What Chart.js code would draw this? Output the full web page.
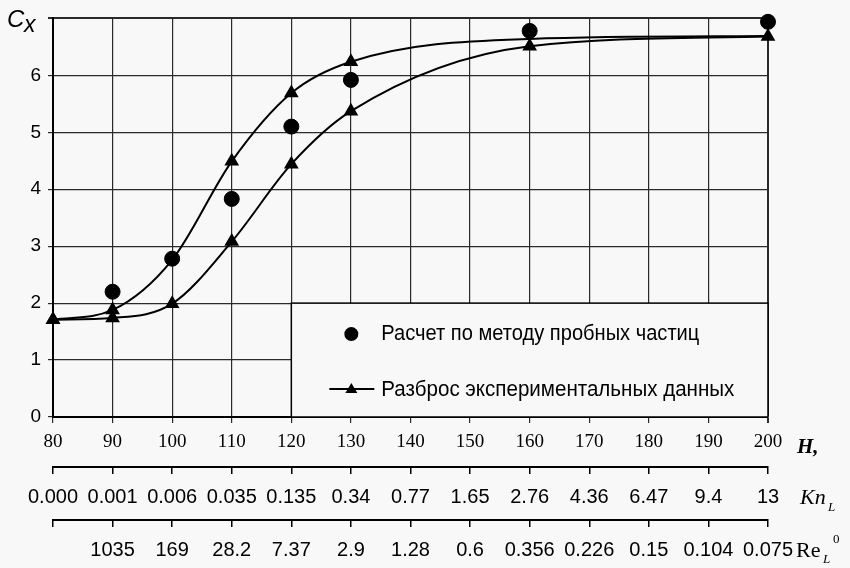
<!DOCTYPE html>
<html>
<head>
<meta charset="utf-8">
<script src="https://cdn.jsdelivr.net/npm/chart.js@4.4.0/dist/chart.umd.min.js"></script>
<style>
    html, body { margin: 0; padding: 0; background: #f8f8f8; }
</style>
</head>
<body>
<canvas id="grafica" width="850" height="568"></canvas>
<script>
// высоты H, км
const alturas = [80, 90, 100, 110, 120, 130, 160, 200];
// расчет по методу пробных частиц
const calcH = [90, 100, 110, 120, 130, 160, 200];
const calcCx = [2.2, 2.78, 3.83, 5.1, 5.92, 6.78, 6.94];
// разброс экспериментальных данных: верхняя и нижняя границы
const superiorCx = [1.71, 1.88, 2.76, 4.49, 5.69, 6.24, 6.64, 6.69];
const superiorMarca = [1, 1, 0, 1, 1, 1, 0, 0];
const inferiorCx = [1.71, 1.74, 1.99, 3.08, 4.44, 5.37, 6.51, 6.68];

const knL = ["0.000", "0.001", "0.006", "0.035", "0.135", "0.34", "0.77", "1.65", "2.76", "4.36", "6.47", "9.4", "13"];
const reL = ["", "1035", "169", "28.2", "7.37", "2.9", "1.28", "0.6", "0.356", "0.226", "0.15", "0.104", "0.075"];
const leyenda = ["Расчет по методу пробных частиц", "Разброс экспериментальных данных"];

const puntos = (xs, ys) => xs.map((x, i) => ({ x: x, y: ys[i] }));

const textos = {
    id: "textos",
    afterDraw(chart) {
        const ctx = chart.ctx;
        const sx = chart.scales.x;
        const sy = chart.scales.y;
        ctx.save();

        // рамка легенды
        const x0 = sx.getPixelForValue(120), x1 = sx.getPixelForValue(200);
        const y0 = sy.getPixelForValue(2), y1 = sy.getPixelForValue(0);
        ctx.fillStyle = "#f8f8f8";
        ctx.fillRect(x0, y0, x1 - x0, y1 - y0);
        ctx.strokeStyle = "#000";
        ctx.lineWidth = 1.5;
        ctx.strokeRect(x0, y0, x1 - x0, y1 - y0);

        ctx.fillStyle = "#000";
        ctx.beginPath();
        ctx.arc(x0 + 60, y0 + 31, 7, 0, Math.PI * 2);
        ctx.fill();

        ctx.lineWidth = 2;
        ctx.beginPath();
        ctx.moveTo(x0 + 38, y0 + 86);
        ctx.lineTo(x0 + 83, y0 + 86);
        ctx.stroke();
        ctx.beginPath();
        ctx.moveTo(x0 + 60, y0 + 80);
        ctx.lineTo(x0 + 66, y0 + 90);
        ctx.lineTo(x0 + 54, y0 + 90);
        ctx.closePath();
        ctx.fill();

        ctx.font = "22px 'Liberation Sans'";
        ctx.textBaseline = "alphabetic";
        ctx.fillText(leyenda[0], x0 + 90, y0 + 37, 318);
        ctx.fillText(leyenda[1], x0 + 90, y0 + 93, 353);

        // подписи осей
        ctx.font = "italic 24px 'Liberation Sans'";
        ctx.fillText("C", 7, 27);
        ctx.font = "italic 23px 'Liberation Sans'";
        ctx.fillText("x", 24, 32);

        ctx.font = "bold italic 21px 'Liberation Serif'";
        ctx.fillText("H,", 797, 453);

        ctx.font = "italic 22px 'Liberation Serif'";
        ctx.fillText("Kn", 800, 504);
        ctx.font = "italic 13px 'Liberation Serif'";
        ctx.fillText("L", 828, 511);

        ctx.font = "22px 'Liberation Serif'";
        ctx.fillText("Re", 796, 557);
        ctx.font = "italic 13px 'Liberation Serif'";
        ctx.fillText("L", 823, 563);
        ctx.font = "13px 'Liberation Serif'";
        ctx.fillText("0", 833, 543);
        ctx.restore();
    }
};

const ejeInferior = (etiquetas, peso, alto) => ({
    type: "linear",
    position: "bottom",
    weight: peso,
    min: 80,
    max: 200,
    afterFit: s => { s.height = alto; },
    grid: { drawOnChartArea: false, drawTicks: true, tickLength: 7, color: "#000", lineWidth: 1.5 },
    border: { display: true, color: "#000", width: 2 },
    ticks: {
        stepSize: 10,
        autoSkip: false,
        maxRotation: 0,
        padding: 11,
        color: "#000",
        font: { family: "'Liberation Sans'", size: 20 },
        callback: v => etiquetas[Math.round((v - 80) / 10)]
    }
});

new Chart(document.getElementById("grafica"), {
    type: "scatter",
    data: {
        datasets: [
            {
                label: "superior",
                data: puntos(alturas, superiorCx),
                showLine: true,
                clip: false,
                cubicInterpolationMode: "monotone",
                borderColor: "#000",
                borderWidth: 2,
                backgroundColor: "#000",
                pointStyle: "triangle",
                pointRadius: superiorMarca.map(m => m ? 6.5 : 0)
            },
            {
                label: "inferior",
                data: puntos(alturas, inferiorCx),
                showLine: true,
                clip: false,
                cubicInterpolationMode: "monotone",
                borderColor: "#000",
                borderWidth: 2,
                backgroundColor: "#000",
                pointStyle: "triangle",
                pointRadius: 6.5
            },
            {
                label: leyenda[0],
                data: puntos(calcH, calcCx),
                showLine: false,
                clip: false,
                backgroundColor: "#000",
                borderColor: "#000",
                pointStyle: "circle",
                pointRadius: 7.5
            }
        ]
    },
    options: {
        responsive: false,
        devicePixelRatio: 1,
        animation: false,
        layout: { padding: { top: 15, right: 82, left: 0, bottom: 0 } },
        plugins: { legend: { display: false }, tooltip: { enabled: false } },
        scales: {
            x: {
                type: "linear",
                position: "bottom",
                weight: 0,
                min: 80,
                max: 200,
                afterFit: s => { s.height = 50; },
                grid: {
                    color: "#2a2a2a",
                    lineWidth: c => (c.tick && c.tick.value === 200) ? 2 : 1.2,
                    tickLength: 6
                },
                border: { display: true, color: "#000", width: 2 },
                ticks: {
                    stepSize: 10,
                    autoSkip: false,
                    maxRotation: 0,
                    padding: 8,
                    color: "#000",
                    font: { family: "'Liberation Serif'", size: 19 }
                }
            },
            kn: ejeInferior(knL, 1, 53),
            re: ejeInferior(reL, 2, 48),
            y: {
                min: 0,
                max: 7,
                afterFit: s => { s.width = 53; },
                grid: {
                    color: "#2a2a2a",
                    lineWidth: c => (c.tick && c.tick.value === 7) ? 2 : 1.2,
                    tickLength: 5
                },
                border: { display: true, color: "#000", width: 2 },
                ticks: {
                    stepSize: 1,
                    padding: 7,
                    color: "#000",
                    font: { family: "'Liberation Sans'", size: 19 },
                    callback: v => v === 7 ? "" : v
                }
            }
        }
    },
    plugins: [textos]
});
</script>
</body>
</html>
